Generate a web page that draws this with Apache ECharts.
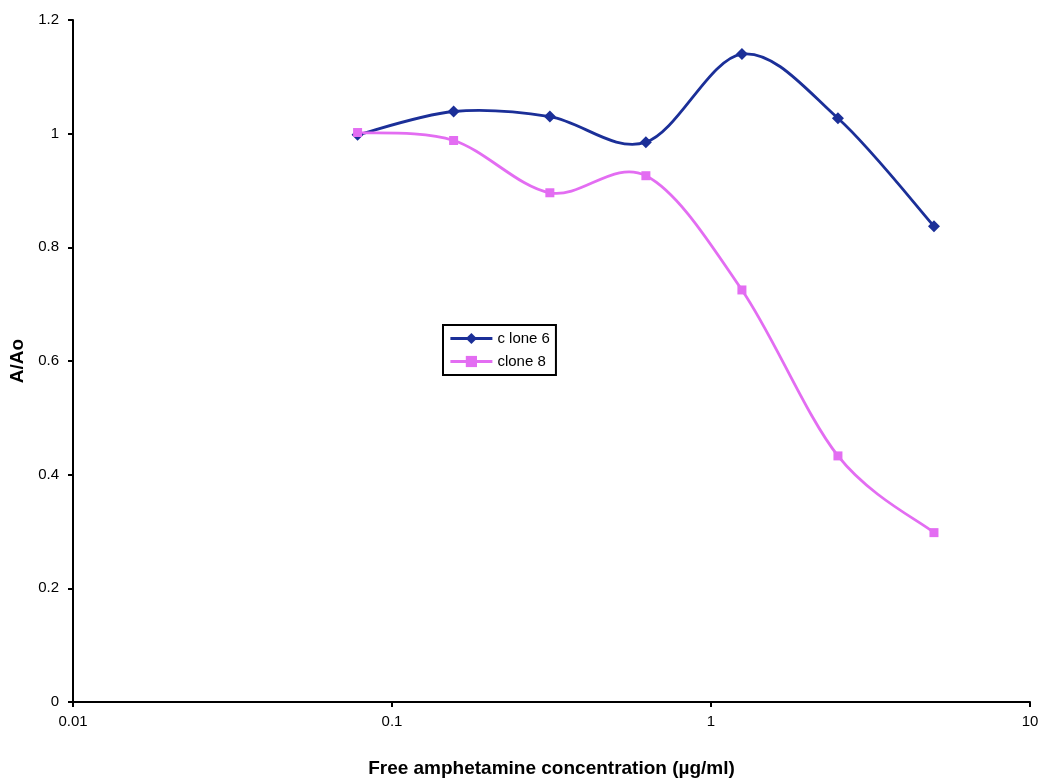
<!DOCTYPE html>
<html><head><meta charset="utf-8">
<script src="https://cdn.jsdelivr.net/npm/echarts@6/dist/echarts.min.js"></script>
<style>html,body{margin:0;padding:0;background:#fff}#c{width:1049px;height:783px}</style>
</head><body><div id="c"></div>
<script>
const concentrations = [0.078, 0.156, 0.3125, 0.625, 1.25, 2.5, 5];
const clone6 = [0.998, 1.039, 1.030, 0.985, 1.140, 1.027, 0.837];
const clone8 = [1.002, 0.988, 0.896, 0.926, 0.725, 0.433, 0.298];
const seriesNames = ['c lone 6', 'clone 8'];
const xTitle = 'Free amphetamine concentration (µg/ml)';
const yTitle = 'A/Ao';

const colors = ['#1B2F98', '#E36DF2'];
const chart = echarts.init(document.getElementById('c'));
const font = 'Liberation Sans, Arial, sans-serif';

// Excel-style smoothed curve (Catmull-Rom Bezier) drawn in pixel space via api.coord
function curveSeries(name, ys, color) {
  return {
    name: name + ' curve', type: 'custom', z: 1, silent: true,
    data: concentrations.map((x, i) => [x, ys[i]]),
    renderItem: function (params, api) {
      if (params.dataIndex !== 0) return null;
      const p = concentrations.map((x, i) => api.coord([x, ys[i]]));
      const n = p.length, k = 1 / 6, children = [];
      for (let i = 0; i < n - 1; i++) {
        const a = p[Math.max(i - 1, 0)], b = p[i], c = p[i + 1], d = p[Math.min(i + 2, n - 1)];
        children.push({
          type: 'bezierCurve',
          shape: {
            x1: b[0], y1: b[1], x2: c[0], y2: c[1],
            cpx1: b[0] + (c[0] - a[0]) * k, cpy1: b[1] + (c[1] - a[1]) * k,
            cpx2: c[0] - (d[0] - b[0]) * k, cpy2: c[1] - (d[1] - b[1]) * k
          },
          style: {stroke: color, lineWidth: 2.8, fill: null}
        });
      }
      return {type: 'group', children: children};
    }
  };
}

chart.setOption({
  animation: false,
  backgroundColor: '#fff',
  grid: {left: 73, right: 19, top: 20, bottom: 80},
  legend: {
    orient: 'vertical', left: 443, top: 325,
    borderColor: '#000', borderWidth: 2, padding: [6, 6, 6, 6],
    itemWidth: 42, itemHeight: 14, itemGap: 8,
    backgroundColor: '#fff',
    textStyle: {fontFamily: font, fontSize: 15, color: '#000'},
    data: [
      {name: seriesNames[0], lineStyle: {color: colors[0], width: 2.8, opacity: 1}},
      {name: seriesNames[1], lineStyle: {color: colors[1], width: 2.8, opacity: 1}}
    ]
  },
  xAxis: {
    type: 'log', logBase: 10, min: 0.01, max: 10,
    name: xTitle, nameLocation: 'middle', nameGap: 57,
    nameTextStyle: {fontFamily: font, fontSize: 19, fontWeight: 'bold', color: '#000'},
    axisLine: {lineStyle: {color: '#000', width: 2}},
    axisTick: {show: true, length: 5, lineStyle: {color: '#000', width: 2}},
    minorTick: {show: false},
    splitLine: {show: false},
    axisLabel: {fontFamily: font, fontSize: 15, color: '#000', margin: 12,
      formatter: v => String(+v.toPrecision(3))}
  },
  yAxis: {
    type: 'value', min: 0, max: 1.2, interval: 0.2,
    name: yTitle, nameLocation: 'middle', nameGap: 41, nameRotate: 90,
    nameTextStyle: {fontFamily: font, fontSize: 19, fontWeight: 'bold', color: '#000'},
    axisLine: {show: true, lineStyle: {color: '#000', width: 2}},
    axisTick: {show: true, length: 5, lineStyle: {color: '#000', width: 2}},
    splitLine: {show: false},
    axisLabel: {fontFamily: font, fontSize: 15, color: '#000', margin: 14,
      formatter: v => String(+v.toFixed(1))}
  },
  series: [
    curveSeries(seriesNames[0], clone6, colors[0]),
    curveSeries(seriesNames[1], clone8, colors[1]),
    {name: seriesNames[0], type: 'line', z: 3,
     data: concentrations.map((x, i) => [x, clone6[i]]),
     symbol: 'diamond', symbolSize: 12,
     lineStyle: {color: colors[0], width: 2.8, opacity: 0},
     itemStyle: {color: colors[0]}},
    {name: seriesNames[1], type: 'line', z: 3,
     data: concentrations.map((x, i) => [x, clone8[i]]),
     symbol: 'rect', symbolSize: 9,
     lineStyle: {color: colors[1], width: 2.8, opacity: 0},
     itemStyle: {color: colors[1]}}
  ]
});
</script></body></html>
